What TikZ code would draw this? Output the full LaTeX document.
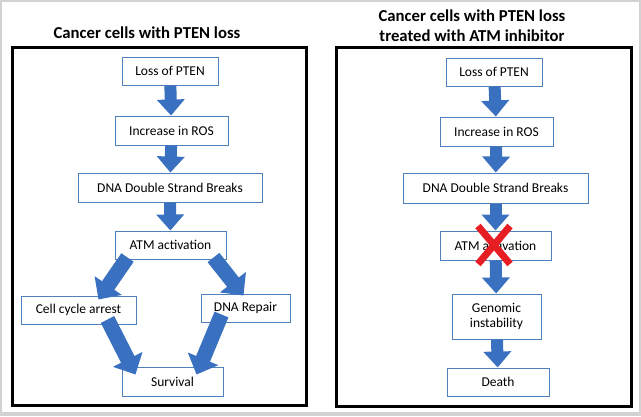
\documentclass[tikz,border=0pt]{standalone}
\usepackage{fontspec}
\setmainfont{Carlito}
\usetikzlibrary{arrows.meta}
\definecolor{boxblue}{RGB}{79,129,189}
\definecolor{arrowblue}{RGB}{58,112,192}
\definecolor{crossred}{RGB}{230,30,36}
\tikzstyle{event} = [rectangle, minimum height=28pt, text centered, draw=boxblue, line width=1pt, fill=white, font=\fontsize{13.5}{15}\selectfont, inner sep=2pt]
\tikzstyle{panel} = [draw=black, line width=3pt]
\tikzstyle{heading} = [font=\fontsize{16.7}{20}\selectfont\bfseries, align=center]
\tikzstyle{blockarrow} = [-{Triangle[width=27pt, length=16pt]}, line width=12pt, draw=arrowblue]
\tikzstyle{diagarrow} = [-{Triangle[width=32pt, length=17pt]}, line width=15pt, draw=arrowblue]

\begin{document}
\begin{tikzpicture}[x=1pt, y=-1pt]
		\useasboundingbox (0,0) rectangle (641,416);
		\draw [gray!35, line width=1.5pt] (0.75,0.75) rectangle (640,413);
		\fill [gray!35] (0,413) rectangle (641,416);

		% left panel
		\node (ltitle) [heading] at (147,33) {Cancer cells with PTEN loss};
		\draw [panel] (12,47) rectangle (306,405);
		\node (lpten) [event, minimum width=96pt] at (170,71) {Loss of PTEN};
		\node (lros) [event, minimum width=113pt, minimum height=29pt] at (171.5,130.5) {Increase in ROS};
		\node (ldsb) [event, minimum width=184pt, minimum height=29pt] at (170,187.5) {DNA Double Strand Breaks};
		\node (latm) [event, minimum width=111pt] at (170.5,245) {ATM activation};
		\node (lcca) [event, minimum width=115pt] at (78.5,310) {Cell cycle arrest};
		\node (lrep) [event, minimum width=89pt] at (245.5,308) {DNA Repair};
		\node (lsurv) [event, minimum width=101pt, minimum height=29pt] at (172.5,381.5) {Survival};

		\draw [blockarrow](lpten) -- (lros);
		\draw [blockarrow](lros) -- (ldsb);
		\draw [blockarrow](ldsb) -- (latm);
		\draw [diagarrow]([xshift=-43pt, yshift=2pt]latm.south) -- ([xshift=20pt, yshift=-4pt]lcca.north);
		\draw [diagarrow]([xshift=43pt, yshift=2pt]latm.south) -- ([xshift=-2pt, yshift=-2pt]lrep.north);
		\draw [diagarrow]([xshift=29pt, yshift=5pt]lcca.south) -- ([xshift=-37pt, yshift=-8pt]lsurv.north);
		\draw [diagarrow]([xshift=-24pt, yshift=8pt]lrep.south) -- ([xshift=24pt, yshift=-8pt]lsurv.north);

		% right panel
		\node (rtitle) [heading] at (472,26) {Cancer cells with PTEN loss\\treated with ATM inhibitor};
		\draw [panel] (336,47) rectangle (631,406);
		\node (rpten) [event, minimum width=96pt] at (494,72) {Loss of PTEN};
		\node (rros) [event, minimum width=113pt, minimum height=29pt] at (496.5,131.5) {Increase in ROS};
		\node (rdsb) [event, minimum width=185pt, minimum height=30pt] at (495.5,188) {DNA Double Strand Breaks};
		\node (ratm) [event, minimum width=111pt, minimum height=29pt] at (495.5,245.5) {ATM activation};
		\node (rgen) [event, minimum width=89pt, minimum height=45pt, align=center] at (496.5,316.5) {Genomic\\instability};
		\node (rdeath) [event, minimum width=102pt] at (498,382) {Death};

		\draw [blockarrow](rpten) -- (rros);
		\draw [blockarrow](rros) -- (rdsb);
		\draw [blockarrow](rdsb) -- (ratm);
		\draw [blockarrow](ratm) -- (rgen);
		\draw [blockarrow](rgen) -- (rdeath);

		% blocked ATM
		\draw [crossred, line width=7pt] (478,226) -- (510,264) (510,226) -- (478,264);
	\end{tikzpicture}
\end{document}
